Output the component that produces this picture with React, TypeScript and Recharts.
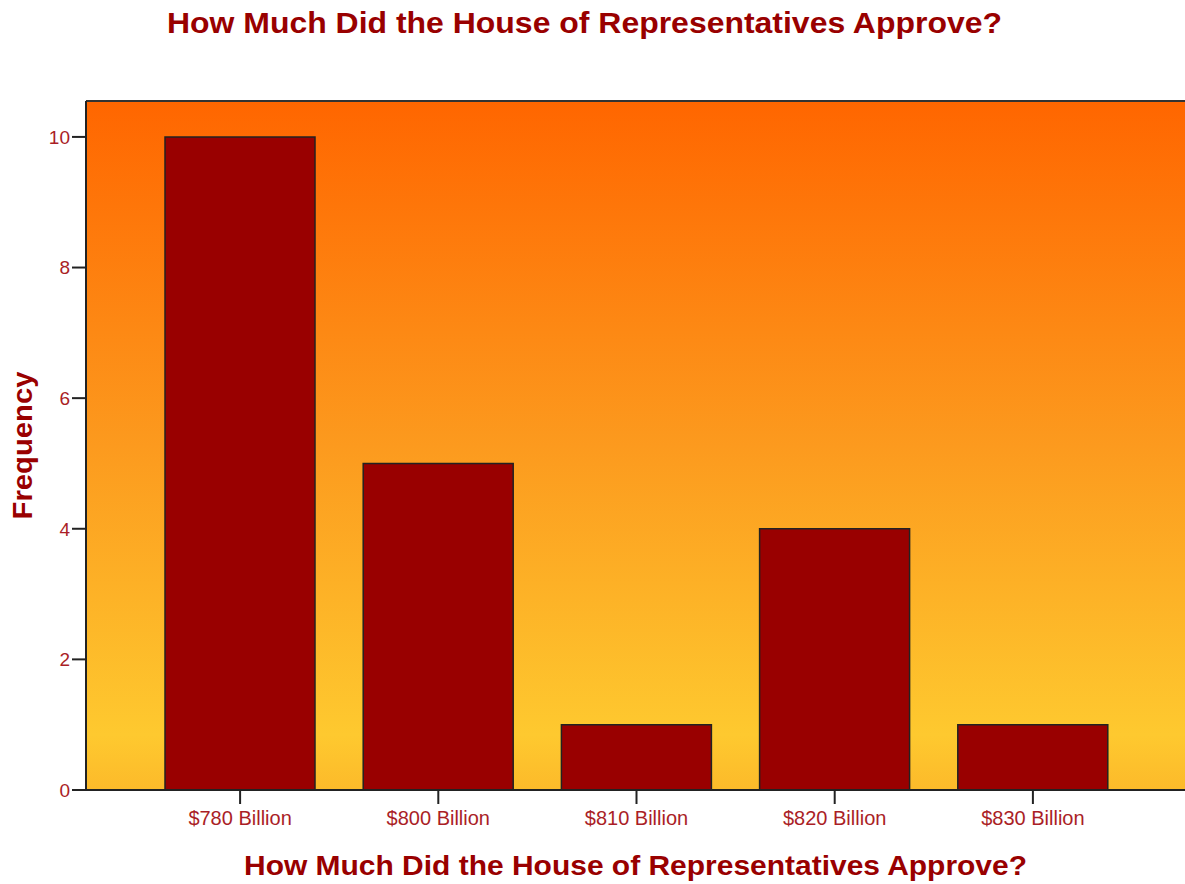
import { BarChart, Bar, XAxis, YAxis, CartesianGrid, ReferenceLine } from "recharts";

const categories = ["$780 Billion", "$800 Billion", "$810 Billion", "$820 Billion", "$830 Billion"];
const frequency = [10, 5, 1, 4, 1];
const yTicks = [0, 2, 4, 6, 8, 10];
const yMax = 10.55;

const title = "How Much Did the House of Representatives Approve?";
const data = categories.map((c, i) => ({ name: c, value: frequency[i] }));

const dark = "#990000";
const tickRed = "#AA1E26";
const font = "'Liberation Sans', Arial, sans-serif";

export default function App() {
  return (
    <div style={{ position: "relative", width: 1185, height: 884, background: "#fff", fontFamily: font }}>
      <style>{`body{margin:0}`}</style>
      <svg width={1185} height={50} style={{ position: "absolute", left: 0, top: 0 }}>
        <text
          x={584.5}
          y={33}
          textAnchor="middle"
          fontSize={29}
          fontWeight="bold"
          fill={dark}
          textLength={835}
          lengthAdjust="spacingAndGlyphs"
        >
          {title}
        </text>
      </svg>
      <div style={{ position: "absolute", left: 0, top: 0 }}>
        <BarChart width={1185} height={884} data={data} margin={{ top: 101, right: 0, left: 0, bottom: 0 }}>
          <defs>
            <linearGradient id="bg" x1="0" y1="0" x2="0" y2="1">
              <stop offset="0%" stopColor="#FF6600" />
              <stop offset="50%" stopColor="#FC9A1E" />
              <stop offset="92%" stopColor="#FEC92F" />
              <stop offset="100%" stopColor="#FCBA2A" />
            </linearGradient>
          </defs>
          <CartesianGrid horizontal={false} vertical={false} fill="url(#bg)" />
          <XAxis
            dataKey="name"
            height={94}
            padding={{ left: 55, right: 53 }}
            tickSize={14}
            tickMargin={7}
            tick={{ fill: tickRed, fontSize: 20, fontFamily: font }}
            axisLine={{ stroke: "#222", strokeWidth: 2 }}
            tickLine={{ stroke: "#222", strokeWidth: 2 }}
            label={{
              content: (props: any) => {
                const vb = props.viewBox || { x: 86, y: 790, width: 1099, height: 94 };
                return (
                  <text
                    x={vb.x + vb.width / 2}
                    y={875}
                    textAnchor="middle"
                    fontSize={28}
                    fontWeight="bold"
                    fill={dark}
                    textLength={783}
                    lengthAdjust="spacingAndGlyphs"
                    fontFamily={font}
                  >
                    {title}
                  </text>
                );
              },
            }}
          />
          <YAxis
            width={86}
            domain={[0, yMax]}
            ticks={yTicks}
            tickSize={14}
            tickMargin={2}
            tick={{ fill: tickRed, fontSize: 19, fontFamily: font }}
            axisLine={{ stroke: "#222", strokeWidth: 2 }}
            tickLine={{ stroke: "#222", strokeWidth: 2 }}
            label={{
              content: (props: any) => {
                const vb = props.viewBox || { x: 0, y: 101, width: 86, height: 689 };
                const cy = vb.y + vb.height / 2;
                return (
                  <text
                    x={32}
                    y={cy}
                    transform={`rotate(-90 32 ${cy})`}
                    textAnchor="middle"
                    fontSize={28}
                    fontWeight="bold"
                    fill={dark}
                    textLength={148}
                    lengthAdjust="spacingAndGlyphs"
                    fontFamily={font}
                  >
                    Frequency
                  </text>
                );
              },
            }}
          />
          <ReferenceLine y={yMax} stroke="#333" strokeWidth={2} />
          <Bar dataKey="value" fill="#990000" stroke="#222" strokeWidth={1.5} barSize={150} isAnimationActive={false} />
        </BarChart>
      </div>
    </div>
  );
}
